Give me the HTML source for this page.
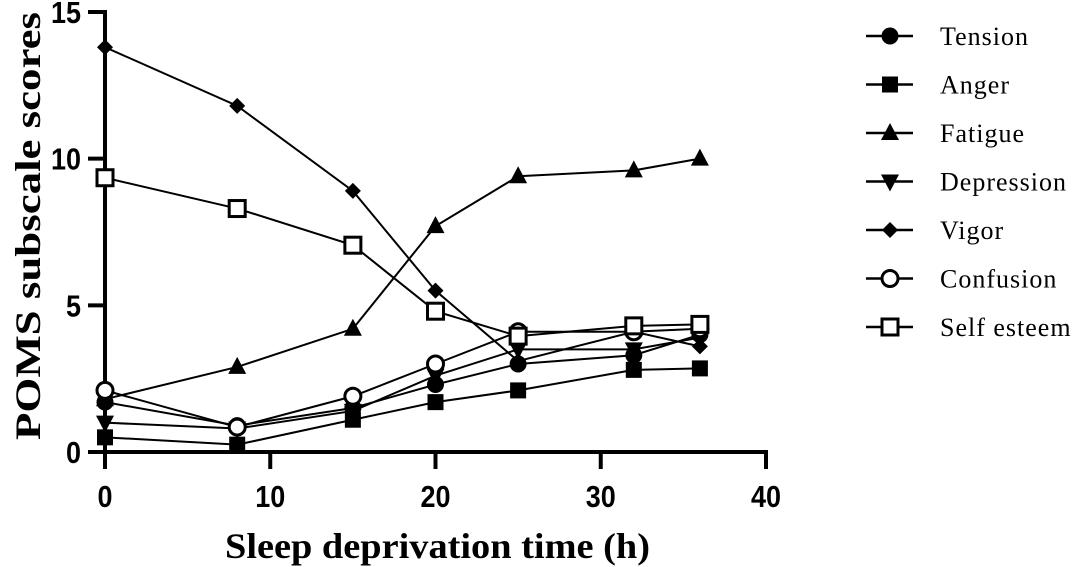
<!DOCTYPE html>
<html><head><meta charset="utf-8"><style>
html,body{margin:0;padding:0;background:#fff;}
svg{display:block;}
.tick{font-family:"Liberation Sans",sans-serif;font-weight:bold;font-size:31px;}
.title{font-family:"Liberation Serif",serif;font-weight:bold;font-size:36px;}
.leg{font-family:"Liberation Serif",serif;font-size:26px;letter-spacing:1px;}
</style></head><body>
<svg id="chart" width="1074" height="567" viewBox="0 0 1074 567"></svg>
<script>
const xValues=[0,8,15,20,25,32,36];
const seriesNames=["Tension","Anger","Fatigue","Depression","Vigor","Confusion","Self esteem"];
const tension=[1.7,0.9,1.5,2.3,3.0,3.3,4.0];
const anger=[0.5,0.25,1.1,1.7,2.1,2.8,2.85];
const fatigue=[1.8,2.9,4.2,7.7,9.4,9.6,10.0];
const depression=[1.0,0.8,1.4,2.6,3.5,3.5,3.9];
const vigor=[13.8,11.8,8.9,5.5,3.1,4.1,3.6];
const confusion=[2.1,0.85,1.9,3.0,4.1,4.1,4.2];
const selfEsteem=[9.35,8.3,7.05,4.8,3.95,4.3,4.35];
const xTicks=[0,10,20,30,40];
const yTicks=[0,5,10,15];
const markers=["circle","square","triangle","tridown","diamond","ocircle","osquare"];
const allSeries=[tension,anger,fatigue,depression,vigor,confusion,selfEsteem];

const NS="http://www.w3.org/2000/svg";
const svg=document.getElementById('chart');
const X0=105,X1=766,Y0=452,Y1=12;
const sx=v=>X0+(v-0)/(40-0)*(X1-X0);
const sy=v=>Y0-(v-0)/(15-0)*(Y0-Y1);
function el(t,a,p){const e=document.createElementNS(NS,t);for(const k in a)e.setAttribute(k,a[k]);(p||svg).appendChild(e);return e;}

function marker(type,x,y,g){
  let e;
  if(type==="circle")e=el('circle',{cx:x,cy:y,r:8.5,fill:'#000'},g);
  else if(type==="square")e=el('rect',{x:x-8,y:y-8,width:16,height:16,fill:'#000'},g);
  else if(type==="triangle")e=el('polygon',{points:`${x},${y-10} ${x+9},${y+7} ${x-9},${y+7}`,fill:'#000'},g);
  else if(type==="tridown")e=el('polygon',{points:`${x},${y+10} ${x+9},${y-7} ${x-9},${y-7}`,fill:'#000'},g);
  else if(type==="diamond")e=el('polygon',{points:`${x},${y-8} ${x+8},${y} ${x},${y+8} ${x-8},${y}`,fill:'#000'},g);
  else if(type==="ocircle")e=el('circle',{cx:x,cy:y,r:8,fill:'#fff',stroke:'#000','stroke-width':3},g);
  else e=el('rect',{x:x-8,y:y-8,width:16,height:16,fill:'#fff',stroke:'#000','stroke-width':3},g);
  return e;
}

const ax=el('line',{x1:X0-17,y1:Y0,x2:X1+2,y2:Y0,stroke:'#000','stroke-width':4});

const ay=el('line',{x1:X0,y1:Y1-2,x2:X0,y2:Y0+17,stroke:'#000','stroke-width':4});

xTicks.forEach(t=>{
  const l=el('line',{x1:sx(t),y1:Y0,x2:sx(t),y2:Y0+17,stroke:'#000','stroke-width':4});
  
  const s=String(t);
  const tx=el('text',{x:sx(t),y:Y0+55,'text-anchor':'middle',class:'tick',textLength:15*s.length,lengthAdjust:'spacingAndGlyphs'});tx.textContent=s;
  
});
yTicks.forEach(t=>{
  const l=el('line',{x1:X0-17,y1:sy(t),x2:X0,y2:sy(t),stroke:'#000','stroke-width':4});
  
  const s=String(t);
  const tx=el('text',{x:81,y:sy(t)+11,'text-anchor':'end',class:'tick',textLength:15*s.length,lengthAdjust:'spacingAndGlyphs'});tx.textContent=s;
  
});
const xt=el('text',{x:225,y:558,class:'title',textLength:425,lengthAdjust:'spacingAndGlyphs'});xt.textContent='Sleep deprivation time (h)';

const yt=el('text',{x:0,y:0,class:'title',textLength:428,lengthAdjust:'spacingAndGlyphs',transform:'translate(40,440) rotate(-90)'});yt.textContent='POMS subscale scores';


allSeries.forEach((vals,i)=>{
  const g=el('g',{});
  
  
  const pts=vals.map((v,j)=>sx(xValues[j])+','+sy(v)).join(' ');
  el('polyline',{points:pts,fill:'none',stroke:'#000','stroke-width':2},g);
  vals.forEach((v,j)=>{
    const m=marker(markers[i],sx(xValues[j]),sy(v),g);
    
    
  });
  const ly=36+i*48.5;
  const lg=el('g',{});
  
  
  el('line',{x1:866,y1:ly,x2:913,y2:ly,stroke:'#000','stroke-width':2.5},lg);
  marker(markers[i],890,ly,lg);
  const t=el('text',{x:940,y:ly+9,class:'leg'},lg);t.textContent=seriesNames[i];
});
</script>
</body></html>
